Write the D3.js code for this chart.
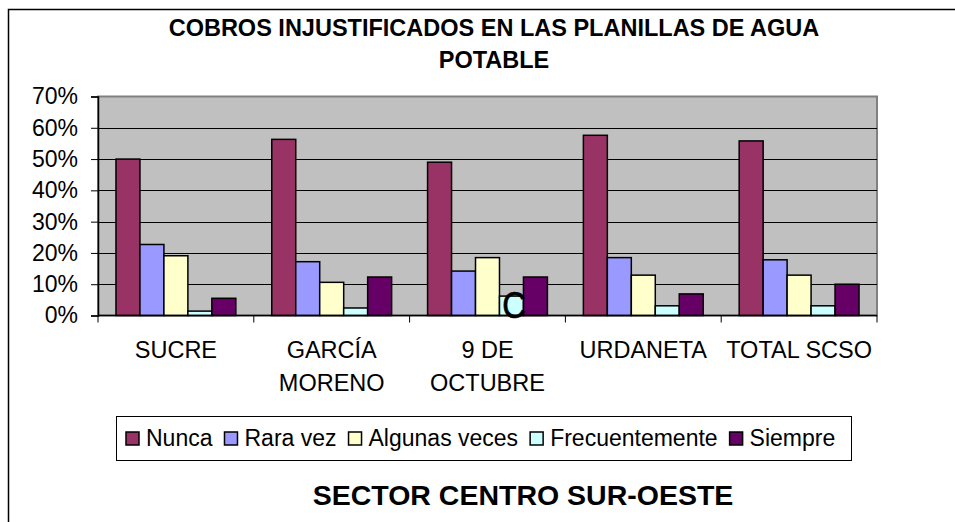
<!DOCTYPE html>
<html>
<head>
<meta charset="utf-8">
<script src="https://cdn.jsdelivr.net/npm/d3@7"></script>
<style>
  html, body { margin: 0; padding: 0; background: #fff; }
  svg { display: block; }
  text { font-family: "Liberation Sans", Arial, sans-serif; }
</style>
</head>
<body>
<svg id="chart" width="955" height="522"></svg>
<script>
// ---- Data ----
const categories = [["SUCRE"], ["GARCÍA", "MORENO"], ["9 DE", "OCTUBRE"], ["URDANETA"], ["TOTAL SCSO"]];
const seriesNames = ["Nunca", "Rara vez", "Algunas veces", "Frecuentemente", "Siempre"];
const seriesColors = ["#993366", "#9999FF", "#FFFFCC", "#CCFFFF", "#660066"];
const nunca          = [0.50, 0.563, 0.49, 0.576, 0.558];
const raraVez        = [0.227, 0.172, 0.142, 0.185, 0.178];
const algunasVeces   = [0.191, 0.106, 0.185, 0.129, 0.129];
const frecuentemente = [0.014, 0.024, 0.062, 0.031, 0.031];
const siempre        = [0.055, 0.123, 0.123, 0.069, 0.100];
const yTicks = [0, 0.1, 0.2, 0.3, 0.4, 0.5, 0.6, 0.7];
const titleLines = ["COBROS INJUSTIFICADOS EN LAS PLANILLAS DE AGUA", "POTABLE"];
const footerTitle = "SECTOR CENTRO SUR-OESTE";

const seriesValues = [nunca, raraVez, algunasVeces, frecuentemente, siempre];
const catKeys = categories.map((c, i) => i);

const svg = d3.select("#chart");

// outer frame
svg.append("rect").attr("x", 8.5).attr("y", 9.5).attr("width", 1000).attr("height", 1000)
  .attr("fill", "#fff").attr("stroke", "#000").attr("stroke-width", 1.5);

const plot = { left: 98, right: 877, top: 96.5, bottom: 315.5 };

const x0 = d3.scaleBand().domain(catKeys).range([plot.left, plot.right]).paddingInner(0).paddingOuter(0);
const x1 = d3.scaleBand().domain(d3.range(seriesNames.length)).range([0, x0.bandwidth()]).paddingOuter(0.75).paddingInner(0);
const y = d3.scaleLinear().domain([0, 0.7]).range([plot.bottom, plot.top]);

// Title
const title = svg.append("text").attr("text-anchor", "middle").attr("font-weight", "bold")
  .attr("font-size", 23.5).attr("fill", "#000");
title.selectAll("tspan").data(titleLines).join("tspan")
  .attr("x", 494).attr("y", (d, i) => 36 + i * 32).text(d => d);

// plot background
svg.append("rect").attr("x", plot.left).attr("y", plot.top)
  .attr("width", plot.right - plot.left).attr("height", plot.bottom - plot.top)
  .attr("fill", "#C0C0C0").attr("stroke", "#808080").attr("stroke-width", 2);

// gridlines
svg.append("g").selectAll("line").data(yTicks.slice(1, -1)).join("line")
  .attr("x1", plot.left).attr("x2", plot.right)
  .attr("y1", d => Math.round(y(d)) + 0.5).attr("y2", d => Math.round(y(d)) + 0.5)
  .attr("stroke", "#000").attr("stroke-width", 1);

// bars
const groups = svg.append("g").selectAll("g").data(catKeys).join("g")
  .attr("transform", d => `translate(${x0(d)},0)`);
groups.selectAll("rect").data(ci => seriesValues.map((vals, si) => ({ si, v: vals[ci] }))).join("rect")
  .attr("x", d => x1(d.si)).attr("width", x1.bandwidth())
  .attr("y", d => y(d.v)).attr("height", d => y(0) - y(d.v))
  .attr("fill", d => seriesColors[d.si]).attr("stroke", "#000").attr("stroke-width", 1.5);

// stray "C" glyph over 9 DE OCTUBRE / Frecuentemente bar
const cx = x0(2) + x1(3) + x1.bandwidth() / 2 + 2.5;
svg.append("text").attr("transform", `translate(${cx},318) scale(0.88,1.02)`)
  .attr("text-anchor", "middle").attr("font-size", 37).attr("fill", "#000")
  .attr("stroke", "#000").attr("stroke-width", 0.7).text("C");

// y axis
const yAxis = d3.axisLeft(y).tickValues(yTicks).tickFormat(d3.format(".0%")).tickSize(7).tickPadding(13);
const yg = svg.append("g").attr("transform", `translate(${plot.left},0)`).call(yAxis);
yg.select(".domain").attr("stroke", "#000").attr("stroke-width", 1.5);
yg.selectAll(".tick line").attr("stroke", "#000");
yg.selectAll(".tick text").attr("font-size", 23).attr("font-family", "Liberation Sans, Arial, sans-serif").attr("fill", "#000");

// x axis
const xg = svg.append("g").attr("transform", `translate(0,${plot.bottom})`);
xg.append("line").attr("x1", plot.left).attr("x2", plot.right).attr("stroke", "#000").attr("stroke-width", 1.5);
xg.selectAll("line.tk").data(d3.range(categories.length + 1)).join("line").attr("class", "tk")
  .attr("x1", d => plot.left + d * x0.bandwidth()).attr("x2", d => plot.left + d * x0.bandwidth())
  .attr("y1", 0).attr("y2", 7).attr("stroke", "#000");
const lbl = xg.selectAll("text").data(catKeys).join("text")
  .attr("text-anchor", "middle").attr("font-size", 23.5).attr("fill", "#000");
lbl.selectAll("tspan").data(ci => categories[ci].map(t => ({ t, ci }))).join("tspan")
  .attr("x", d => x0(d.ci) + x0.bandwidth() / 2).attr("y", (d, i) => 42 + i * 33).text(d => d.t);

// legend
const legend = svg.append("g");
legend.append("rect").attr("x", 116.5).attr("y", 416.5).attr("width", 735).attr("height", 44)
  .attr("fill", "#fff").attr("stroke", "#000").attr("stroke-width", 1);
let lx = 126;
seriesNames.forEach((name, i) => {
  legend.append("rect").attr("x", lx).attr("y", 432).attr("width", 13).attr("height", 13)
    .attr("fill", seriesColors[i]).attr("stroke", "#000").attr("stroke-width", 1.5);
  const t = legend.append("text").attr("x", lx + 20).attr("y", 446).attr("font-size", 23).attr("fill", "#000").text(name);
  lx += 20 + t.node().getComputedTextLength() + 12;
});

// footer title
svg.append("text").attr("x", 523).attr("y", 505).attr("text-anchor", "middle")
  .attr("font-weight", "bold").attr("font-size", 28.5).attr("fill", "#000").text(footerTitle);
</script>
</body>
</html>
